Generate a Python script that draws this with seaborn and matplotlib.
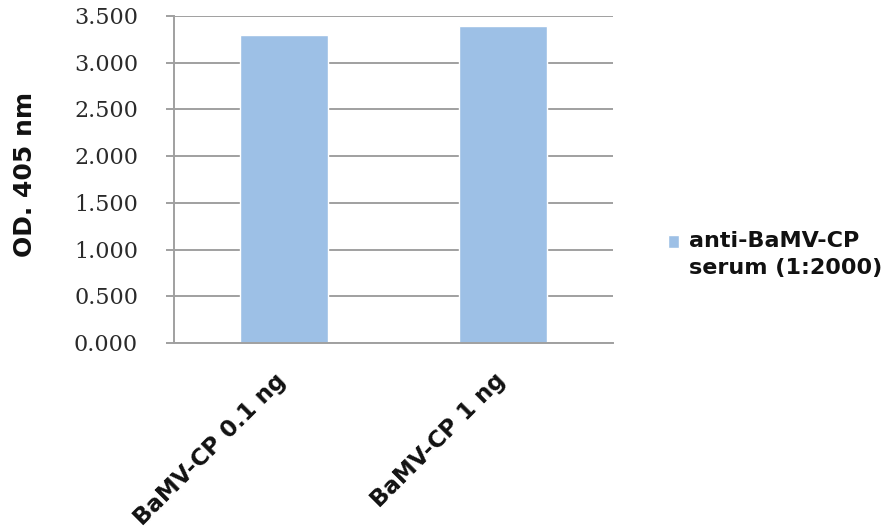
import matplotlib
matplotlib.use('Agg')
import matplotlib.pyplot as plt
import matplotlib.transforms as mtransforms
import seaborn as sns
import pandas as pd

categories = ['BaMV-CP 0.1 ng', 'BaMV-CP 1 ng']
values = [3.30, 3.39]
series_name = 'anti-BaMV-CP\nserum (1:2000)'
yticks = [0.0, 0.5, 1.0, 1.5, 2.0, 2.5, 3.0, 3.5]
ytick_labels = ['0.000', '0.500', '1.000', '1.500', '2.000', '2.500', '3.000', '3.500']
y_label = 'OD. 405 nm'

sns.set_theme(style='white')
plt.rcParams['font.family'] = ['DejaVu Sans']

W, H = 885, 528
fig = plt.figure(figsize=(W / 100, H / 100), dpi=100)
ax = fig.add_axes([174 / W, 1 - 343 / H, (613 - 174) / W, (343 - 16) / H])

df = pd.DataFrame({'cat': categories, 'val': values, 'series': [series_name] * len(categories)})
sns.barplot(data=df, x='cat', y='val', hue='series', palette=['#9dc0e6'],
            width=0.4, dodge=False, saturation=1, ax=ax, errorbar=None)

gray = '#a0a0a0'
ax.set_xlim(-0.5, 1.5)
ax.set_ylim(0, 3.5)
ax.yaxis.grid(True, color=gray, lw=1.4)
ax.set_axisbelow(True)
for s in ['top', 'right']:
    ax.spines[s].set_visible(False)
for s in ['left', 'bottom']:
    ax.spines[s].set_color(gray)
    ax.spines[s].set_linewidth(1.4)
ax.yaxis.set_tick_params(which='major', direction='out', length=5.5, width=1.4, color=gray,
                         left=True, labelleft=False)
ax.xaxis.set_tick_params(which='major', length=0, pad=0)
ax.set_yticks(yticks)

# y tick labels as real text at the tick values, well left of the axis
ytrans = mtransforms.blended_transform_factory(fig.transFigure, ax.transData) + \
    mtransforms.ScaledTranslation(0, -2 / 100, fig.dpi_scale_trans)
for v, t in zip(yticks, ytick_labels):
    ax.text(106 / W, v, t, transform=ytrans, ha='center', va='center',
            family='DejaVu Serif', fontsize=16, color='#2a2a2a', clip_on=False)

ax.set_xticks(range(len(categories)))
ax.set_xticklabels(categories, rotation=45, ha='right', va='center', rotation_mode='anchor',
                   fontweight='bold', fontsize=16.5, color='#111111')

ax.set_xlabel('')
ax.set_ylabel(y_label, fontsize=18, fontweight='bold', color='#111111')
ax.yaxis.set_label_coords(37 / W, 0.515, transform=mtransforms.blended_transform_factory(fig.transFigure, ax.transAxes))

handles, labels = ax.get_legend_handles_labels()
leg = ax.legend(handles, labels, loc='upper left', bbox_to_anchor=(668 / W, 1 - 231 / H),
                bbox_transform=fig.transFigure, frameon=False,
                prop={'weight': 'bold', 'size': 16}, handlelength=0.5, handleheight=0.5,
                handletextpad=0.45, borderpad=0, borderaxespad=0, labelcolor='#111111')
leg.get_texts()[0].set_linespacing(1.45)
hp = leg.legend_handles[0]
hp.set_y(hp.get_y() + 9.5)

xoff = mtransforms.ScaledTranslation(-1 / 100, -34 / 100, fig.dpi_scale_trans)
for lab in ax.get_xticklabels():
    lab.set_transform(lab.get_transform() + xoff)

fig.savefig('out.png', dpi=100)
